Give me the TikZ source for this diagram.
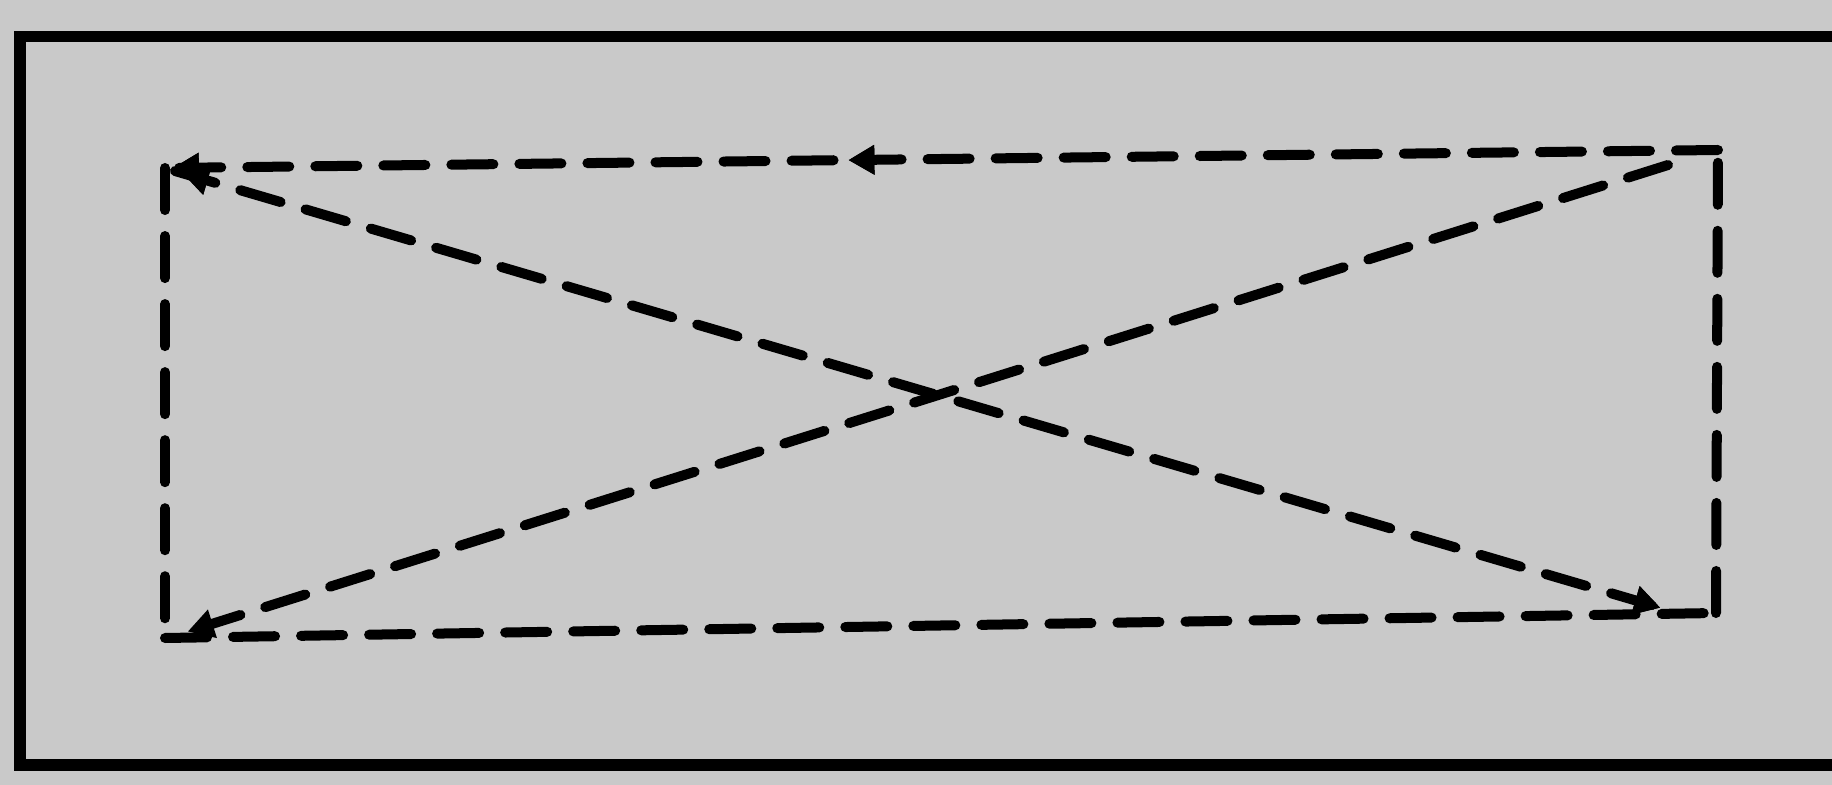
\documentclass[tikz,border=0pt]{standalone}
\usetikzlibrary{arrows.meta,decorations.markings}
\definecolor{paper}{RGB}{201,201,201}
\tikzset{
  dline/.style={line width=0.1cm, dash pattern=on 0.42cm off 0.26cm, line cap=round},
  tipat/.style={postaction={decorate, solid}, decoration={markings,
      mark=at position #1 with {\arrow{Triangle[length=0.26cm,width=0.28cm]}}}},
  tipback/.style={postaction={decorate, solid}, decoration={markings,
      mark=at position #1 with {\arrowreversed{Triangle[length=0.26cm,width=0.28cm]}}}}
}
\begin{document}
\begin{tikzpicture}[x=0.01cm, y=-0.01cm]
  % 1. 背景与外框
  \fill[paper] (0,0) rectangle (1832,785);
  \useasboundingbox (0,0) rectangle (1832,785);
  \draw[line width=0.11cm] (1832,37) -- (20,37) -- (20,765) -- (1832,765);

  % 2. 角点
  \coordinate (TL) at (165,168);
  \coordinate (TR) at (1718,150);
  \coordinate (BR) at (1716,613);
  \coordinate (BL) at (165,638);
  \coordinate (TLd) at (175,171);
  \coordinate (BRd) at (1668,610);
  \coordinate (BLd) at (180,634);
  \coordinate (TRd) at (1668,165);

  % 3. 虚线矩形
  \draw[dline, tipat=0.56, tipat=0.995] (TR) -- (TL);
  \draw[dline] (TL) -- (BL);
  \draw[dline] (BL) -- (BR);
  \draw[dline] (BR) -- (TR);

  % 4. 对角虚线
  \draw[dline, tipback=0.005, tipat=0.995] (TLd) -- (BRd);
  \draw[dline, tipat=0.995] (TRd) -- (BLd);
\end{tikzpicture}
\end{document}
